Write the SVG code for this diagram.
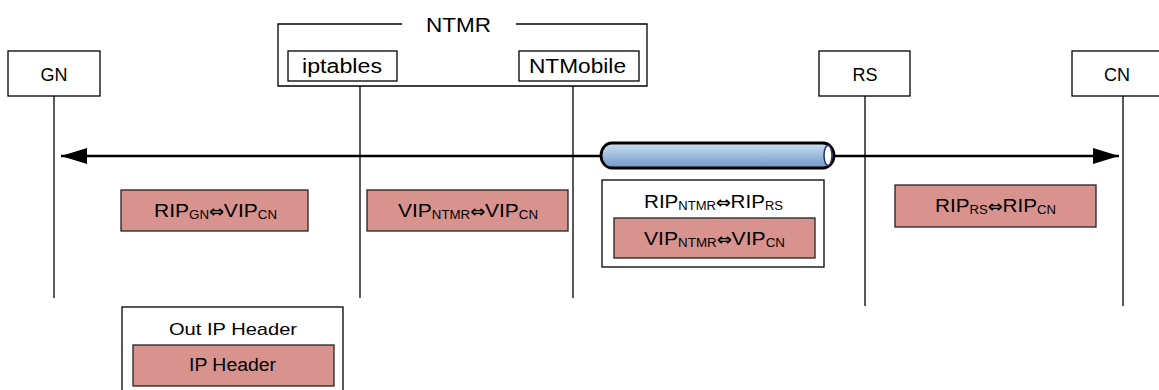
<svg xmlns="http://www.w3.org/2000/svg" width="1159" height="390" viewBox="0 0 1159 390">
<style>
text{font-family:"Liberation Sans",Arial,"DejaVu Sans",sans-serif;fill:#000}
.box{fill:#fff;stroke:#000;stroke-width:1.3}
.pink{fill:#d8938e;stroke:#222;stroke-width:1.3}
.life{stroke:#000;stroke-width:1.3;fill:none}
.node{font-size:18px;text-anchor:middle}
.lbl{font-size:19px;text-anchor:middle}
.sub{font-size:12px}
.arr{font-family:"DejaVu Sans",sans-serif;font-size:16px;font-weight:bold}
</style>
<defs>
<marker id="ah" viewBox="0 0 26 16" refX="26" refY="8" markerWidth="26" markerHeight="16" markerUnits="userSpaceOnUse" orient="auto-start-reverse">
<path d="M0,0 L26,8 L0,16 Z" fill="#000"/>
</marker>
<linearGradient id="tube" x1="0" y1="0" x2="0" y2="1">
<stop offset="0" stop-color="#cfe0f2"/>
<stop offset="0.4" stop-color="#a6c3e3"/>
<stop offset="1" stop-color="#6f98c8"/>
</linearGradient>
</defs>

<g id="connectors">
<line class="life" x1="54" y1="96" x2="54" y2="298"/>
<line class="life" x1="360" y1="86" x2="360" y2="298"/>
<line class="life" x1="573" y1="86" x2="573" y2="298"/>
<line class="life" x1="865" y1="96" x2="865" y2="306"/>
<line class="life" x1="1123" y1="96" x2="1123" y2="306"/>
<line x1="61" y1="156" x2="1119" y2="156" stroke="#000" stroke-width="2.5" marker-start="url(#ah)" marker-end="url(#ah)"/>
</g>

<g id="tunnel">
<rect x="601" y="143" width="233" height="25" rx="11" ry="12.5" fill="url(#tube)" stroke="#000" stroke-width="2.8"/>
<ellipse cx="828" cy="155.5" rx="4" ry="10" fill="#fff" stroke="#2a2a6a" stroke-width="1.5"/>
</g>

<g id="GN">
<rect class="box" x="8" y="51" width="92" height="45"/>
<text class="node" x="54" y="81">GN</text>
</g>

<g id="NTMR">
<path d="M402,24 H278 V86 H647 V24 H516" fill="#fff" stroke="#000" stroke-width="1.3"/>
<text x="458.5" y="32" font-size="21" text-anchor="middle" textLength="65" lengthAdjust="spacingAndGlyphs">NTMR</text>
</g>

<g id="iptables">
<rect class="box" x="288" y="51" width="109" height="30"/>
<text x="342" y="73" font-size="20" text-anchor="middle" textLength="80" lengthAdjust="spacingAndGlyphs">iptables</text>
</g>

<g id="NTMobile">
<rect class="box" x="519" y="51" width="120" height="30"/>
<text x="577.5" y="73" font-size="20" text-anchor="middle" textLength="97" lengthAdjust="spacingAndGlyphs">NTMobile</text>
</g>

<g id="RS">
<rect class="box" x="819" y="51" width="91" height="45"/>
<text class="node" x="865" y="81">RS</text>
</g>

<g id="CN">
<rect class="box" x="1072" y="51" width="92" height="45"/>
<text class="node" x="1117" y="81">CN</text>
</g>

<g id="hdr-gn">
<rect class="pink" x="121" y="190" width="187" height="41"/>
<text class="lbl" x="215.5" y="217" textLength="123" lengthAdjust="spacingAndGlyphs">RIP<tspan class="sub" dy="1.5">GN</tspan><tspan class="arr" dy="-1.5">⇔</tspan>VIP<tspan class="sub" dy="1.5">CN</tspan></text>
</g>

<g id="hdr-ntmr">
<rect class="pink" x="367" y="190" width="201" height="41"/>
<text class="lbl" x="468" y="217" textLength="140" lengthAdjust="spacingAndGlyphs">VIP<tspan class="sub" dy="1.5">NTMR</tspan><tspan class="arr" dy="-1.5">⇔</tspan>VIP<tspan class="sub" dy="1.5">CN</tspan></text>
</g>

<g id="hdr-tunnel">
<rect class="box" x="602" y="180" width="222" height="87"/>
<text class="lbl" x="713.5" y="208" textLength="139" lengthAdjust="spacingAndGlyphs">RIP<tspan class="sub" dy="1.5">NTMR</tspan><tspan class="arr" dy="-1.5">⇔</tspan>RIP<tspan class="sub" dy="1.5">RS</tspan></text>
<rect class="pink" x="614" y="218" width="201" height="40"/>
<text class="lbl" x="714.5" y="245" textLength="141" lengthAdjust="spacingAndGlyphs">VIP<tspan class="sub" dy="1.5">NTMR</tspan><tspan class="arr" dy="-1.5">⇔</tspan>VIP<tspan class="sub" dy="1.5">CN</tspan></text>
</g>

<g id="hdr-rs">
<rect class="pink" x="895" y="185" width="201" height="42"/>
<text class="lbl" x="995.5" y="212" textLength="121" lengthAdjust="spacingAndGlyphs">RIP<tspan class="sub" dy="1.5">RS</tspan><tspan class="arr" dy="-1.5">⇔</tspan>RIP<tspan class="sub" dy="1.5">CN</tspan></text>
</g>

<g id="legend">
<rect class="box" x="122" y="307" width="221" height="90"/>
<text x="233" y="335" font-size="17" text-anchor="middle" textLength="128" lengthAdjust="spacingAndGlyphs">Out IP Header</text>
<rect class="pink" x="133" y="345" width="201" height="41"/>
<text x="232.5" y="371" font-size="18" text-anchor="middle" textLength="87" lengthAdjust="spacingAndGlyphs">IP Header</text>
</g>
</svg>
